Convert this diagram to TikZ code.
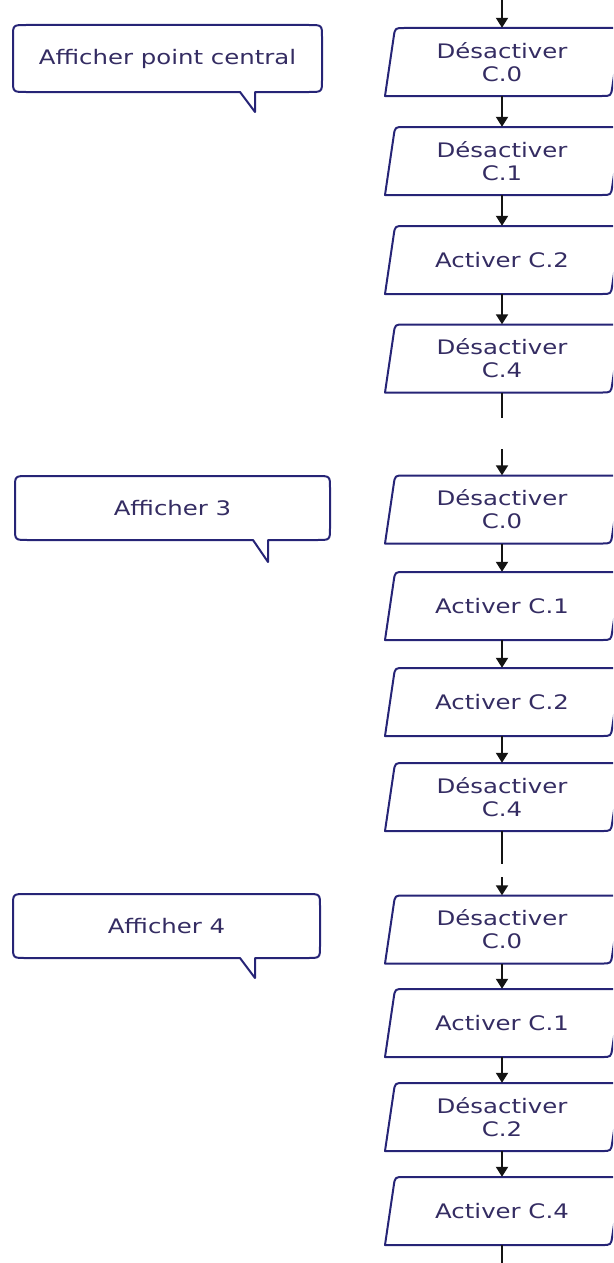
\documentclass[tikz,border=0pt]{standalone}
\usepackage{fontspec}
\usetikzlibrary{arrows.meta}
\newfontfamily\flowfont[FakeStretch=1.22]{DejaVu Sans}
\definecolor{boxblue}{RGB}{38,36,118}
\definecolor{txtcol}{RGB}{52,44,98}
\definecolor{wire}{RGB}{20,20,20}

\tikzset{
  boxtext/.style={inner sep=0pt, minimum width=220pt, minimum height=68pt,
    align=center, text=txtcol, font=\flowfont\fontsize{20}{23}\selectfont},
  calltext/.style={inner sep=0pt, text=txtcol, font=\flowfont\fontsize{20}{23}\selectfont},
  outline/.style={draw=boxblue, line width=2pt, line join=round},
  wireline/.style={draw=wire, line width=1.9pt},
  flowarrow/.style={wireline, -{Triangle[width=12pt,length=10pt]}},
}

% slanted action box with two rounded corners (top-left, bottom-right)
\newcommand\flowbox[3]{%
  \node[boxtext] (#1) at (502,#2) {#3};
  \draw[outline, shift={(#1.center)}]
    (125,-34) -- (-98,-34) .. controls (-107,-34) .. (-108.3,-25)
    -- (-117,34) -- (100,34) .. controls (109,34) .. (110.3,25)
    -- (119,-34) -- cycle;
}

% speech bubble: name, left, top, right, bottom, tail x, tail tip y, text
\newcommand\callout[8]{%
  \draw[outline]
    (#6,#5) -- (#2+13,#5) .. controls (#2,#5) .. (#2,#5-12)
    -- (#2,#3+12) .. controls (#2,#3) .. (#2+13,#3)
    -- (#4-13,#3) .. controls (#4,#3) .. (#4,#3+12)
    -- (#4,#5-12) .. controls (#4,#5) .. (#4-13,#5)
    -- (#6+15,#5) -- (#6+15,#7) -- cycle;
  \node[calltext] (#1) at ({(#2+#4)/2},{(#3+#5)/2}) {#8};
}

\begin{document}
\begin{tikzpicture}[x=1pt, y=-1pt]
\useasboundingbox (0,0) rectangle (613,1263);
\clip (0,0) rectangle (613,1263);

% comments
\callout{c1}{13}{25}{322}{92}{240}{112}{Afficher point central}
\callout{c2}{15}{476}{330}{540}{253}{562}{Afficher 3}
\callout{c3}{13}{894}{320}{958}{240}{978}{Afficher 4}

% first sequence
\flowbox{b1}{62}{Désactiver\\C.0}
\flowbox{b2}{161}{Désactiver\\C.1}
\flowbox{b3}{260}{Activer C.2}
\flowbox{b4}{358.5}{Désactiver\\C.4}

% second sequence
\flowbox{b5}{509.5}{Désactiver\\C.0}
\flowbox{b6}{606}{Activer C.1}
\flowbox{b7}{702}{Activer C.2}
\flowbox{b8}{797}{Désactiver\\C.4}

% third sequence
\flowbox{b9}{929.5}{Désactiver\\C.0}
\flowbox{b10}{1023}{Activer C.1}
\flowbox{b11}{1117}{Désactiver\\C.2}
\flowbox{b12}{1211}{Activer C.4}

% loose wire ends
\coordinate (in0) at (502,0);
\coordinate (out1) at (502,418);
\coordinate (in1) at (502,449);
\coordinate (out2) at (502,864);
\coordinate (in2) at (502,877);
\coordinate (out3) at (502,1263);

% connectors
\draw[flowarrow] (in0) -- (b1);
\draw[flowarrow] (b1) -- (b2);
\draw[flowarrow] (b2) -- (b3);
\draw[flowarrow] (b3) -- (b4);
\draw[wireline] (b4) -- (out1);
\draw[flowarrow] (in1) -- (b5);
\draw[flowarrow] (b5) -- (b6);
\draw[flowarrow] (b6) -- (b7);
\draw[flowarrow] (b7) -- (b8);
\draw[wireline] (b8) -- (out2);
\draw[flowarrow] (in2) -- (b9);
\draw[flowarrow] (b9) -- (b10);
\draw[flowarrow] (b10) -- (b11);
\draw[flowarrow] (b11) -- (b12);
\draw[wireline] (b12) -- (out3);
\end{tikzpicture}
\end{document}
